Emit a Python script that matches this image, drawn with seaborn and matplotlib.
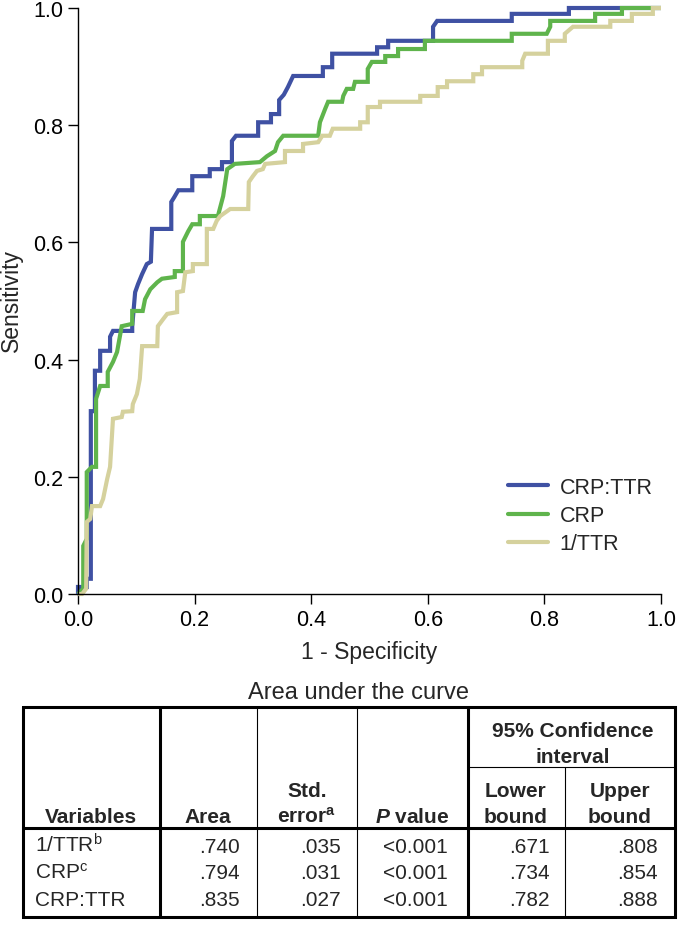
import pandas as pd
import seaborn as sns
from matplotlib import pyplot as plt
from matplotlib.lines import Line2D

# ROC curves (1 - specificity, sensitivity)
crp_ttr_fpr = [0, 0, 0.015, 0.015, 0.022, 0.022, 0.029, 0.029, 0.038, 0.038, 0.055, 0.055, 0.060, 0.093,
               0.093, 0.098, 0.103, 0.110, 0.118, 0.125, 0.127, 0.160, 0.160, 0.165, 0.172, 0.196, 0.196,
               0.226, 0.226, 0.247, 0.247, 0.264, 0.264, 0.271, 0.309, 0.309, 0.331, 0.331, 0.345, 0.345,
               0.353, 0.360, 0.369, 0.420, 0.420, 0.436, 0.436, 0.513, 0.513, 0.532, 0.532, 0.609, 0.609,
               0.616, 0.744, 0.744, 0.842, 0.842, 1.0]
crp_ttr_tpr = [0, 0.012, 0.012, 0.026, 0.026, 0.312, 0.312, 0.381, 0.381, 0.415, 0.415, 0.439, 0.449, 0.449,
               0.457, 0.515, 0.529, 0.546, 0.563, 0.567, 0.623, 0.623, 0.669, 0.677, 0.689, 0.689, 0.713,
               0.713, 0.725, 0.725, 0.737, 0.737, 0.773, 0.782, 0.782, 0.805, 0.805, 0.819, 0.819, 0.843,
               0.852, 0.865, 0.884, 0.884, 0.899, 0.899, 0.922, 0.922, 0.933, 0.933, 0.944, 0.944, 0.968,
               0.978, 0.978, 0.990, 0.990, 1.0, 1.0]

crp_fpr = [0, 0.009, 0.009, 0.015, 0.015, 0.024, 0.031, 0.031, 0.038, 0.051, 0.051, 0.060, 0.067, 0.075,
           0.093, 0.093, 0.111, 0.115, 0.124, 0.136, 0.144, 0.166, 0.166, 0.180, 0.180, 0.189, 0.196, 0.209,
           0.209, 0.240, 0.249, 0.256, 0.269, 0.312, 0.324, 0.338, 0.343, 0.352, 0.412, 0.415, 0.424, 0.429,
           0.453, 0.455, 0.461, 0.472, 0.475, 0.497, 0.497, 0.504, 0.527, 0.527, 0.549, 0.549, 0.595, 0.595,
           0.744, 0.744, 0.804, 0.810, 0.810, 0.887, 0.887, 0.933, 0.933, 1.0]
crp_tpr = [0, 0.009, 0.082, 0.094, 0.208, 0.217, 0.217, 0.333, 0.355, 0.355, 0.379, 0.396, 0.413, 0.457,
           0.461, 0.483, 0.483, 0.503, 0.520, 0.532, 0.538, 0.541, 0.551, 0.551, 0.601, 0.619, 0.631, 0.631,
           0.645, 0.645, 0.679, 0.725, 0.734, 0.737, 0.747, 0.756, 0.771, 0.782, 0.782, 0.805, 0.828, 0.840,
           0.840, 0.850, 0.862, 0.862, 0.874, 0.874, 0.896, 0.908, 0.908, 0.918, 0.918, 0.930, 0.930, 0.944,
           0.944, 0.956, 0.956, 0.968, 0.978, 0.978, 0.990, 0.990, 1.0, 1.0]

ttr_fpr = [0, 0.007, 0.014, 0.015, 0.021, 0.024, 0.038, 0.043, 0.050, 0.055, 0.060, 0.075, 0.077, 0.093,
           0.094, 0.101, 0.106, 0.110, 0.136, 0.137, 0.146, 0.153, 0.170, 0.170, 0.180, 0.184, 0.197, 0.197,
           0.221, 0.221, 0.232, 0.238, 0.244, 0.261, 0.292, 0.293, 0.300, 0.307, 0.317, 0.321, 0.355, 0.355,
           0.386, 0.386, 0.412, 0.419, 0.432, 0.437, 0.484, 0.484, 0.497, 0.497, 0.518, 0.518, 0.587, 0.587,
           0.617, 0.617, 0.633, 0.633, 0.678, 0.678, 0.693, 0.693, 0.762, 0.762, 0.767, 0.806, 0.806, 0.835,
           0.835, 0.849, 0.913, 0.913, 0.950, 0.950, 0.986, 0.986, 1.0]
ttr_tpr = [0, 0, 0.009, 0.123, 0.128, 0.150, 0.150, 0.162, 0.196, 0.217, 0.299, 0.302, 0.311, 0.312,
           0.324, 0.341, 0.367, 0.423, 0.423, 0.457, 0.469, 0.478, 0.481, 0.515, 0.517, 0.549, 0.551, 0.563,
           0.563, 0.623, 0.623, 0.637, 0.645, 0.657, 0.657, 0.703, 0.713, 0.722, 0.725, 0.734, 0.737, 0.756,
           0.756, 0.768, 0.771, 0.782, 0.782, 0.794, 0.794, 0.805, 0.805, 0.831, 0.831, 0.840, 0.840, 0.850,
           0.850, 0.865, 0.865, 0.875, 0.875, 0.887, 0.887, 0.899, 0.899, 0.910, 0.922, 0.922, 0.944, 0.944,
           0.956, 0.968, 0.968, 0.978, 0.978, 0.990, 0.990, 1.0, 1.0]

tests = ['CRP:TTR', 'CRP', '1/TTR']
colors = ['#3f51a3', '#5fb44c', '#d5d19d']

# table values
table_vars = [r'1/TTR$^\mathregular{b}$', r'CRP$^\mathregular{c}$', 'CRP:TTR']
table_area = ['.740', '.794', '.835']
table_se = ['.035', '.031', '.027']
table_p = ['<0.001', '<0.001', '<0.001']
table_lower = ['.671', '.734', '.782']
table_upper = ['.808', '.854', '.888']

df = pd.concat([
    pd.DataFrame({'fpr': crp_ttr_fpr, 'tpr': crp_ttr_tpr, 'test': 'CRP:TTR'}),
    pd.DataFrame({'fpr': crp_fpr, 'tpr': crp_tpr, 'test': 'CRP'}),
    pd.DataFrame({'fpr': ttr_fpr, 'tpr': ttr_tpr, 'test': '1/TTR'}),
], ignore_index=True)

sns.set_style('ticks')
plt.rcParams['font.family'] = ['Liberation Sans', 'DejaVu Sans']
plt.rcParams['mathtext.fontset'] = 'custom'
plt.rcParams['mathtext.rm'] = 'Liberation Sans'
plt.rcParams['mathtext.it'] = 'Liberation Sans:italic'
plt.rcParams['mathtext.bf'] = 'Liberation Sans:bold'
plt.rcParams['mathtext.bfit'] = 'Liberation Sans:italic:bold'

W, H = 680, 928
fig = plt.figure(figsize=(W / 100, H / 100), dpi=100)

# table layer in pixel coordinates
tab = fig.add_axes([0, 0, 1, 1])
tab.set_xlim(0, W)
tab.set_ylim(H, 0)
tab.axis('off')

ax = fig.add_axes([78 / W, (H - 595) / H, 583 / W, 586 / H])
sns.lineplot(data=df, x='fpr', y='tpr', hue='test', hue_order=tests, palette=colors,
             sort=False, estimator=None, linewidth=3, ax=ax, legend=False)
for ln in ax.get_lines():
    ln.set_clip_on(False)
    ln.set_solid_joinstyle('miter')
    ln.set_solid_capstyle('butt')

ax.set_xlim(0, 1)
ax.set_ylim(0, 1)
ax.set_xticks([0, 0.2, 0.4, 0.6, 0.8, 1.0])
ax.set_yticks([0, 0.2, 0.4, 0.6, 0.8, 1.0])
ax.set_xticklabels(['0.0', '0.2', '0.4', '0.6', '0.8', '1.0'])
ax.set_yticklabels(['0.0', '0.2', '0.4', '0.6', '0.8', '1.0'])
ax.tick_params(axis='both', length=7, width=1, labelsize=15.5, color='black', labelcolor='black')
ax.tick_params(axis='y', pad=3.5)
ax.tick_params(axis='x', pad=4)
for side in ['top', 'right']:
    ax.spines[side].set_visible(False)
for side in ['left', 'bottom']:
    ax.spines[side].set_linewidth(1)
    ax.spines[side].set_color('black')
ax.patch.set_alpha(0)

ax.set_xlabel('1 - Specificity', fontsize=16.5)
ax.set_ylabel('Sensitivity', fontsize=16.5)
ax.xaxis.set_label_coords(0.5, -0.078)
ax.yaxis.set_label_coords(-0.095, 0.503)

handles = [Line2D([], [], color=c, linewidth=3) for c in colors]
ax.legend(handles, tests, loc='upper left', bbox_to_anchor=(508 / W, 1 - 478 / H),
          bbox_transform=fig.transFigure, frameon=False, fontsize=15.5, borderpad=0,
          borderaxespad=0, handlelength=1.85, handletextpad=0.55, labelspacing=0.33)

# table drawing
tab.text(358, 699, 'Area under the curve', fontsize=17, ha='center', va='baseline')
thick, thin = 2.2, 0.8
L, R, T, B = 23, 675, 708, 918
tab.plot([L, R, R, L, L], [T, T, B, B, T], color='black', linewidth=thick, solid_joinstyle='miter')
tab.plot([160, 160], [T, B], color='black', linewidth=thick)
tab.plot([468, 468], [T, B], color='black', linewidth=thick)
tab.plot([L, R], [829, 829], color='black', linewidth=thick)
tab.plot([257, 257], [T, B], color='black', linewidth=thin)
tab.plot([357, 357], [T, B], color='black', linewidth=thin)
tab.plot([565, 565], [768, B], color='black', linewidth=thin)
tab.plot([468, R], [768, 768], color='black', linewidth=thin)

fs = 15
hdr = dict(fontsize=fs, fontweight='bold', ha='center', va='baseline')
tab.text(91, 823, 'Variables', **hdr)
tab.text(208, 823, 'Area', **hdr)
tab.text(307, 797, 'Std.', **hdr)
tab.text(307, 823, r'error$^\mathregular{a}$', **hdr)
tab.text(412, 823, r'$\mathbfit{P}$ value', **hdr)
tab.text(573, 737, '95% Confidence', **hdr)
tab.text(573, 763, 'interval', **hdr)
tab.text(516, 797, 'Lower', **hdr)
tab.text(516, 823, 'bound', **hdr)
tab.text(620, 797, 'Upper', **hdr)
tab.text(620, 823, 'bound', **hdr)

row_y = [853, 879, 906]
for i, y in enumerate(row_y):
    tab.text(35, y, table_vars[i], fontsize=fs, ha='left', va='baseline')
    tab.text(240, y, table_area[i], fontsize=fs, ha='right', va='baseline')
    tab.text(341, y, table_se[i], fontsize=fs, ha='right', va='baseline')
    tab.text(448, y, table_p[i], fontsize=fs, ha='right', va='baseline')
    tab.text(550, y, table_lower[i], fontsize=fs, ha='right', va='baseline')
    tab.text(658, y, table_upper[i], fontsize=fs, ha='right', va='baseline')

fig.savefig('out.png', dpi=100)
